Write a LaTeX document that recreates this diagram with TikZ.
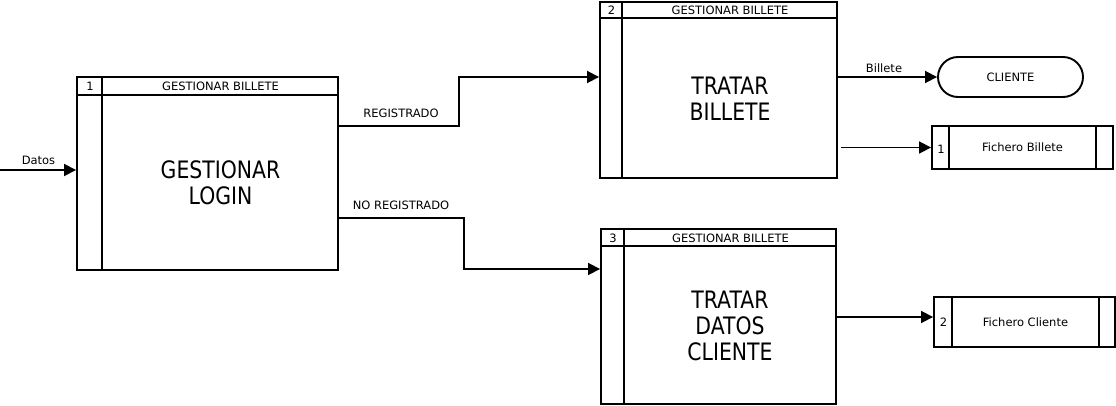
\documentclass[tikz,border=0pt]{standalone}
\usepackage{fontspec}
\setmainfont{DejaVu Sans}
\newfontfamily\bigfont[FakeStretch=0.85]{DejaVu Sans}
\usetikzlibrary{arrows.meta,shapes.misc,calc}

\tikzset{
  proc/.style={draw, line width=1.9pt, inner sep=0pt},
  store/.style={draw, line width=1.9pt, inner sep=0pt},
  extern/.style={draw, line width=1.9pt, rounded rectangle, inner sep=0pt},
  part/.style={line width=1.7pt},
  flow/.style={line width=1.8pt, -{Triangle[length=12pt,width=12pt]}},
  small/.style={font=\fontsize{11.5}{13}\selectfont, inner sep=0pt},
  big/.style={font=\bigfont\fontsize{24}{26}\selectfont, align=center, inner sep=0pt}
}

\begin{document}
\begin{tikzpicture}[x=1pt,y=-1pt]
        \useasboundingbox (0,0) rectangle (1116,406);
        % procesos
        \node[proc, minimum width=261pt, minimum height=193pt] (p1) at (207.5,173.5) {};
        \node[proc, minimum width=237pt, minimum height=176pt] (p2) at (718.5,90) {};
        \node[proc, minimum width=235pt, minimum height=175pt] (p3) at (718.5,316.5) {};
        \foreach \p/\h/\w in {p1/19/26, p2/17/23, p3/18/24} {
          \draw[part] ([yshift=-\h pt]\p.north west) -- ([yshift=-\h pt]\p.north east);
          \draw[part] ([xshift=\w pt]\p.north west) -- ([xshift=\w pt]\p.south west);
        }
        \node[small] (n1) at (90,86.5) {1};
        \node[small] (h1) at (220.5,86.5) {GESTIONAR BILLETE};
        \node[big] (t1) at (220.5,183) {GESTIONAR\\LOGIN};
        \node[small] (n2) at (611.5,10.5) {2};
        \node[small] (h2) at (730,10.5) {GESTIONAR BILLETE};
        \node[big] (t2) at (730,98.5) {TRATAR\\BILLETE};
        \node[small] (n3) at (613,238) {3};
        \node[small] (h3) at (730.5,238) {GESTIONAR BILLETE};
        \node[big] (t3) at (730,326) {TRATAR\\DATOS\\CLIENTE};
        % entidad externa y almacenes
        \node[extern, minimum width=145pt, minimum height=40pt] (cli) at (1010.5,77) {};
        \node[small] (tcli) at (1010.5,77) {CLIENTE};
        \node[store, minimum width=181pt, minimum height=43pt] (fb) at (1022.5,147.5) {};
        \draw[part] ([xshift=18pt]fb.north west) -- ([xshift=18pt]fb.south west);
        \draw[part] ([xshift=-18pt]fb.north east) -- ([xshift=-18pt]fb.south east);
        \node[small] (nfb) at (941,149) {1};
        \node[small] (tfb) at (1022.5,147.5) {Fichero Billete};
        \node[store, minimum width=181pt, minimum height=50pt] (fc) at (1024.5,322) {};
        \draw[part] ([xshift=19pt]fc.north west) -- ([xshift=19pt]fc.south west);
        \draw[part] ([xshift=-17pt]fc.north east) -- ([xshift=-17pt]fc.south east);
        \node[small] (nfc) at (943.5,322) {2};
        \node[small] (tfc) at (1025.5,322) {Fichero Cliente};
        % flujos
        \coordinate (din) at (0,170);
        \coordinate (reg) at (459,126);
        \coordinate (reg2) at (459,77);
        \coordinate (nreg) at (464,218);
        \coordinate (nreg2) at (464,269);
        \coordinate (fcli) at (836,317);
        \draw[flow] (din) -- (din -| p1.west);
        \draw[flow] (p1.east |- reg) -- (reg) -- (reg2) -- (reg2 -| p2.west);
        \draw[flow] (p1.east |- nreg) -- (nreg) -- (nreg2) -- (nreg2 -| p3.west);
        \draw[flow] (p2.east |- cli.west) -- (cli.west);
        \draw[flow] ([xshift=3pt]p2.east |- fb.west) -- (fb.west);
        \draw[flow] (fcli) -- (fcli -| fc.west);
        \node[small] (ldat) at (38.5,160) {Datos};
        \node[small] (lreg) at (401,113) {REGISTRADO};
        \node[small] (lnreg) at (401,205.5) {NO REGISTRADO};
        \node[small] (lbil) at (884,68) {Billete};
\end{tikzpicture}
\end{document}
